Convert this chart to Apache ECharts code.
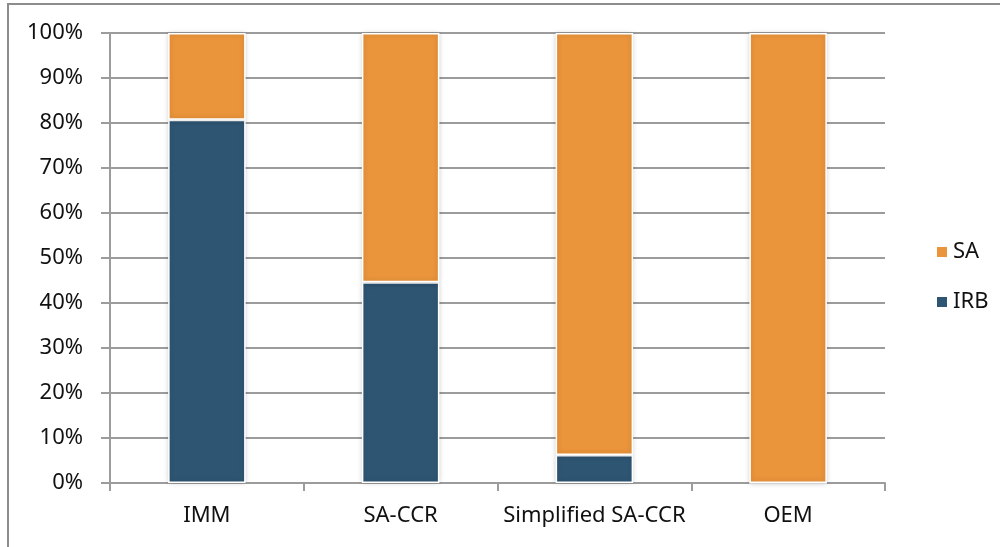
<!DOCTYPE html>
<html>
<head>
<meta charset="utf-8">
<script src="https://cdn.jsdelivr.net/npm/echarts@6/dist/echarts.min.js"></script>
<style>
  html, body { margin: 0; padding: 0; background: #fff; }
  #chart { width: 1000px; height: 547px; }
</style>
</head>
<body>
<div id="chart"></div>
<script>
// Share of exposure by approach, per counterparty credit risk method (percent)
const categories = ['IMM', 'SA-CCR', 'Simplified SA-CCR', 'OEM'];
const irbShare = [80.7, 44.6, 6.2, 0];
const saShare = [19.3, 55.4, 93.8, 100];
const yTicks = [0, 10, 20, 30, 40, 50, 60, 70, 80, 90, 100];

const FONT = 'Noto Sans';
const GRID_COLOR = '#9c9c9c';

const barStyle = (color) => ({
  color: color,
  borderColor: '#ffffff',
  borderWidth: 1.5,
  shadowBlur: 5,
  shadowColor: 'rgba(0,0,0,0.18)'
});

const chart = echarts.init(document.getElementById('chart'), null, { renderer: 'canvas' });
chart.setOption({
  animation: false,
  backgroundColor: '#ffffff',
  textStyle: { fontFamily: FONT },
  grid: { left: 110, right: 115, top: 33, bottom: 64, containLabel: false },
  legend: {
    data: ['SA', 'IRB'],
    orient: 'vertical',
    left: 930,
    top: 236,
    itemGap: 28,
    itemWidth: 12,
    itemHeight: 12,
    icon: 'rect',
    textStyle: { fontFamily: FONT, fontSize: 22, color: '#111' }
  },
  xAxis: {
    type: 'category',
    data: categories,
    axisLine: { lineStyle: { color: GRID_COLOR, width: 2 } },
    axisTick: { show: true, interval: 0, length: 8, lineStyle: { color: GRID_COLOR, width: 2 } },
    axisLabel: { interval: 0, fontFamily: FONT, fontSize: 22, color: '#111', margin: 22 }
  },
  yAxis: {
    type: 'value',
    min: yTicks[0],
    max: yTicks[yTicks.length - 1],
    interval: 10,
    axisLine: { show: true, lineStyle: { color: GRID_COLOR, width: 2 } },
    axisTick: { show: true, length: 9, lineStyle: { color: GRID_COLOR, width: 2 } },
    splitLine: { show: true, lineStyle: { color: GRID_COLOR, width: 2 } },
    axisLabel: {
      fontFamily: FONT, fontSize: 22, color: '#111', margin: 27,
      formatter: (v) => v + '%'
    }
  },
  series: [
    {
      name: 'IRB', type: 'bar', stack: 'total', barWidth: '40%',
      data: irbShare, itemStyle: barStyle('#2e5572')
    },
    {
      name: 'SA', type: 'bar', stack: 'total', barWidth: '40%',
      data: saShare, itemStyle: barStyle('#ea943b')
    }
  ],
  graphic: [
    {
      type: 'polyline',
      shape: { points: [[8, 547], [8, 4], [1000, 4]] },
      style: { stroke: '#8c8c8c', lineWidth: 2, fill: null },
      silent: true
    }
  ]
});
</script>
</body>
</html>
